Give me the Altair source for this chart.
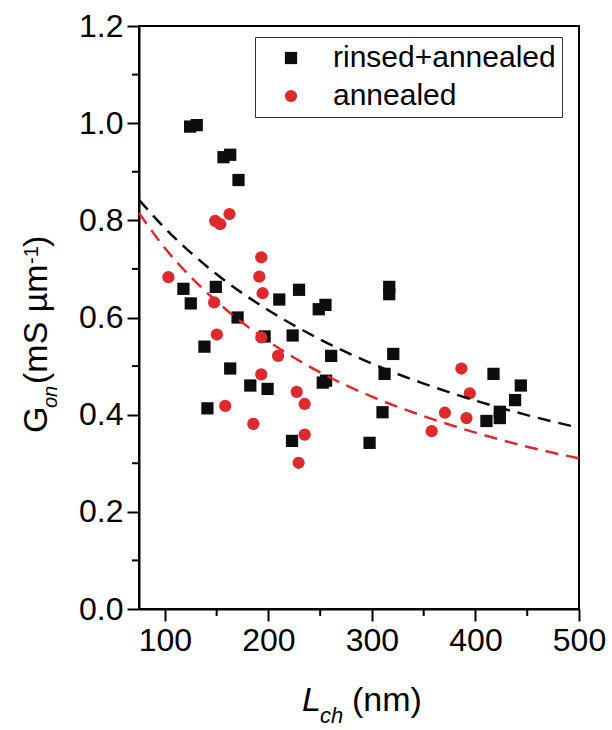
import altair as alt
import pandas as pd

FONT = "Liberation Sans"

# ---------------- data ----------------
series_names = ["rinsed+annealed", "annealed"]
series_colors = ["#0d0d0d", "#dc2a2e"]

rinsed_x = [124.4, 130.8, 156.6, 163.1, 171.1, 117.9, 125.0, 149.2, 138.2, 170.2,
            163.1, 141.1, 182.5, 199.2, 196.3, 210.5, 229.6, 223.4, 222.8, 248.6,
            255.1, 255.7, 252.5, 260.6, 316.7, 316.7, 312.2, 320.6, 297.7, 310.2,
            417.4, 410.6, 423.5, 423.5, 438.3, 443.8]
rinsed_y = [0.993, 0.996, 0.930, 0.935, 0.883, 0.659, 0.629, 0.663, 0.540, 0.600,
            0.495, 0.413, 0.460, 0.453, 0.561, 0.637, 0.657, 0.563, 0.346, 0.617,
            0.626, 0.470, 0.466, 0.521, 0.663, 0.648, 0.484, 0.525, 0.342, 0.405,
            0.484, 0.387, 0.406, 0.393, 0.430, 0.460]

annealed_x = [103.4, 148.6, 153.4, 162.4, 193.1, 191.2, 194.4, 147.6, 150.2, 193.1,
              209.3, 193.1, 158.3, 185.4, 227.3, 235.0, 235.0, 229.2, 357.7, 370.5,
              386.4, 394.5, 391.3]
annealed_y = [0.683, 0.799, 0.792, 0.813, 0.724, 0.684, 0.650, 0.631, 0.565, 0.559,
              0.521, 0.483, 0.418, 0.381, 0.447, 0.422, 0.359, 0.301, 0.366, 0.404,
              0.495, 0.444, 0.393]

# dashed fit curves
fit_x = [75, 100, 150, 200, 250, 300, 350, 400, 450, 500]
fit_rinsed_y = [0.842, 0.784, 0.689, 0.615, 0.555, 0.505, 0.464, 0.429, 0.399, 0.373]
fit_annealed_y = [0.815, 0.743, 0.633, 0.551, 0.487, 0.437, 0.397, 0.363, 0.334, 0.310]

x_ticks = [100, 200, 300, 400, 500]
x_minor = [150, 250, 350, 450]
y_ticks = [0.0, 0.2, 0.4, 0.6, 0.8, 1.0, 1.2]
y_minor = [0.1, 0.3, 0.5, 0.7, 0.9, 1.1]

# ---------------- tables ----------------
pts = pd.concat([
    pd.DataFrame({"L": rinsed_x, "G": rinsed_y, "s": series_names[0]}),
    pd.DataFrame({"L": annealed_x, "G": annealed_y, "s": series_names[1]}),
], ignore_index=True)
pts["o"] = range(len(pts))

fit_r = pd.DataFrame({"L": fit_x, "G": fit_rinsed_y})
fit_a = pd.DataFrame({"L": fit_x, "G": fit_annealed_y})

W, H = 440, 583
xs = alt.Scale(domain=[75, 500], nice=False, zero=False)
ys = alt.Scale(domain=[0, 1.2], nice=False, zero=False)

axis_common = dict(
    labelFont=FONT, labelFontSize=32, labelColor="black",
    domainColor="black", domainWidth=2, tickColor="black", tickWidth=2,
    tickSize=12, grid=False, title=None, labelPadding=4, labelFlush=False,
)

leg = alt.Legend(
    orient="none", legendX=116, legendY=11, title=None,
    labelFont=FONT, labelFontSize=30, labelColor="black", labelLimit=0,
    symbolSize=150, symbolStrokeWidth=0, symbolOpacity=1,
    padding=6, rowPadding=8, symbolOffset=15, labelOffset=27,
    strokeColor="#333333",
)

scatter = alt.Chart(pts).mark_point(filled=True, opacity=1, size=150).encode(
    x=alt.X("L:Q", scale=xs, axis=alt.Axis(values=x_ticks, format="d", **axis_common)),
    y=alt.Y("G:Q", scale=ys, axis=alt.Axis(values=y_ticks, format=".1f", **axis_common)),
    color=alt.Color("s:N", scale=alt.Scale(domain=series_names, range=series_colors), legend=leg),
    shape=alt.Shape("s:N", scale=alt.Scale(domain=series_names, range=["square", "circle"]), legend=leg),
    order=alt.Order("o:Q"),
)

line_r = alt.Chart(fit_r).mark_line(
    color=series_colors[0], strokeWidth=2.5, strokeDash=[13, 8], interpolate="monotone"
).encode(x=alt.X("L:Q", scale=xs), y=alt.Y("G:Q", scale=ys))
line_a = alt.Chart(fit_a).mark_line(
    color=series_colors[1], strokeWidth=2.5, strokeDash=[13, 8], interpolate="monotone"
).encode(x=alt.X("L:Q", scale=xs), y=alt.Y("G:Q", scale=ys))

# minor ticks
xminor = alt.Chart(pd.DataFrame({"L": x_minor})).mark_rule(color="black", strokeWidth=2).encode(
    x=alt.X("L:Q", scale=xs), y=alt.value(H), y2=alt.value(H + 7))
yminor = alt.Chart(pd.DataFrame({"G": y_minor})).mark_rule(color="black", strokeWidth=2).encode(
    y=alt.Y("G:Q", scale=ys), x=alt.value(-7), x2=alt.value(0))

one = pd.DataFrame({"a": [0]})


def txt(t, x, y, size, italic=False, angle=0):
    kw = dict(text=t, font=FONT, fontSize=size, color="black", align="left",
              baseline="alphabetic", fontStyle="italic" if italic else "normal")
    if angle:
        kw["angle"] = angle
    return alt.Chart(one).mark_text(**kw).encode(x=alt.value(x), y=alt.value(y))


# x-axis title: L_ch (nm)
xt = [
    txt("L", 163, 685, 34, italic=True),
    txt("ch", 181, 697, 22, italic=True),
    txt("(nm)", 213, 685, 34),
]
# y-axis title: G_on (mS µm^-1)
yt = [
    txt("G", -92, 407, 34, angle=270),
    txt("on", -82, 382, 20, italic=True, angle=270),
    txt("(mS µm", -92, 358, 34, angle=270),
    txt("-1", -101, 238, 20, angle=270),
    txt(")", -92, 221, 34, angle=270),
]

chart = alt.layer(
    xminor, yminor, scatter, line_r, line_a, *xt, *yt
).properties(
    width=W, height=H,
    autosize=alt.AutoSizeParams(type="none"),
    padding={"left": 139, "top": 26, "right": 33, "bottom": 121},
    background="white",
).configure_view(stroke="black", strokeWidth=2)

chart.save("out.html", embed_options={"renderer": "svg", "actions": False})
